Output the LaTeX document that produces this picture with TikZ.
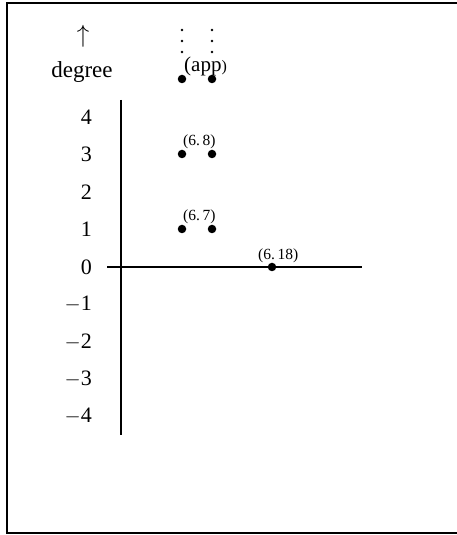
\documentclass[tikz,border=0pt]{standalone}
\usepackage{fontspec}
\setmainfont{Liberation Serif}
\begin{document}
\begin{tikzpicture}[x=1pt,y=1pt,
  axis/.style={line width=1.1pt},
  tick/.style={inner sep=0pt,anchor=east,font=\fontsize{22}{22}\selectfont},
  pt/.style={circle,fill=black,inner sep=0pt,minimum size=8.5pt},
  sdot/.style={circle,fill=black,inner sep=0pt,minimum size=2.6pt},
  lab/.style={inner sep=0pt,anchor=base west,font=\fontsize{15.5}{15.5}\selectfont}]
\useasboundingbox (0,0) rectangle (456,535);
\draw[line width=1.8pt] (7,532) rectangle (520,2);
% axes
\coordinate (vtop) at (121,435);
\coordinate (vbot) at (121,100);
\coordinate (hl) at (107,268);
\coordinate (hr) at (362,268);
\draw[axis] (vtop) -- (vbot);
\draw[axis] (hl) -- (hr);
% tick labels
\node[tick] (t4) at (92,418) {4};
\node[tick] (t3) at (92,381) {3};
\node[tick] (t2) at (92,343) {2};
\node[tick] (t1) at (92,306) {1};
\node[tick] (t0) at (92,268) {0};
\node[tick] (tm1) at (92,231) {$-$1};
\node[tick] (tm2) at (92,193) {$-$2};
\node[tick] (tm3) at (92,156) {$-$3};
\node[tick] (tm4) at (92,119) {$-$4};
% heading
\node[inner sep=0pt,font=\fontsize{26}{26}\selectfont] (arr) at (83,499) {$\uparrow$};
\node[inner sep=0pt,anchor=base,font=\fontsize{23}{23}\selectfont] (deg) at (82,457) {degree};
% points
\node[pt] (a1) at (182,456) {};
\node[pt] (a2) at (212,456) {};
\node[pt] (p31) at (182,381) {};
\node[pt] (p32) at (212,381) {};
\node[pt] (p11) at (182,306) {};
\node[pt] (p12) at (212,306) {};
\node[pt] (p0) at (272,268) {};
% vertical dots
\node[sdot] (d11) at (182,505) {};
\node[sdot] (d12) at (182,494) {};
\node[sdot] (d13) at (182,483) {};
\node[sdot] (d21) at (212,505) {};
\node[sdot] (d22) at (212,494) {};
\node[sdot] (d23) at (212,483) {};
% labels
\node[lab] (lapp) at (184,463) {{\fontsize{21}{21}\selectfont(app}{\fontsize{16}{16}\selectfont)}};
\node[lab] (l68) at (183,389) {(6.\,8)};
\node[lab] (l67) at (183,314) {(6.\,7)};
\node[lab] (l618) at (258,275) {(6.\,18)};
\end{tikzpicture}
\end{document}
